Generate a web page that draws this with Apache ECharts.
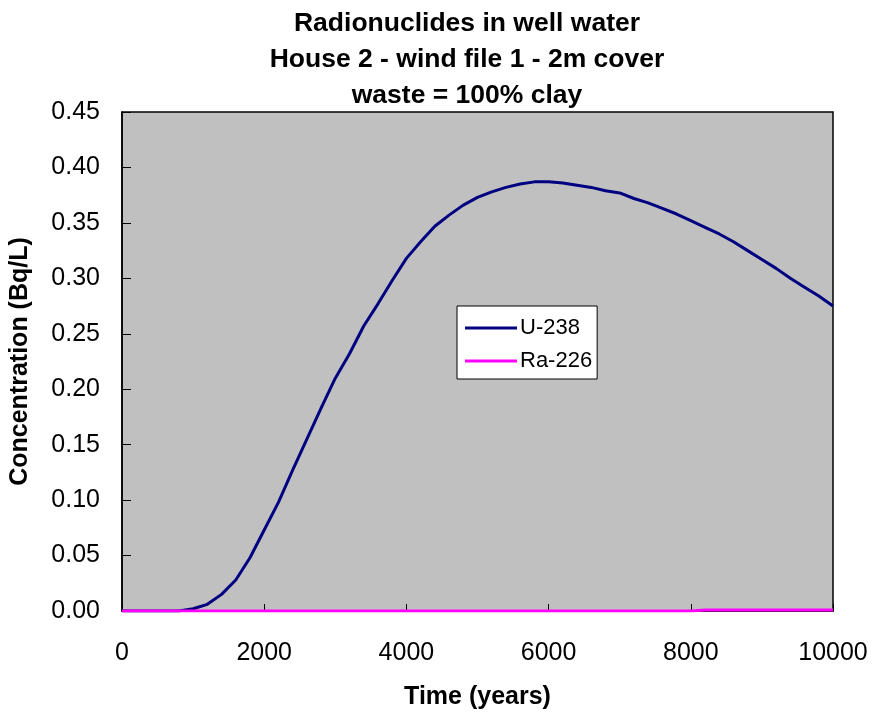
<!DOCTYPE html>
<html>
<head>
<meta charset="utf-8">
<script src="https://cdn.jsdelivr.net/npm/echarts@6/dist/echarts.min.js"></script>
<style>
  html, body { margin: 0; padding: 0; background: #fff; }
  #chart { width: 872px; height: 716px; }
</style>
</head>
<body>
<div id="chart"></div>
<script>
// time in years, every 200 years
var years = [0, 200, 400, 600, 800, 1000, 1200, 1400, 1600, 1800,
  2000, 2200, 2400, 2600, 2800, 3000, 3200, 3400, 3600, 3800,
  4000, 4200, 4400, 4600, 4800, 5000, 5200, 5400, 5600, 5800,
  6000, 6200, 6400, 6600, 6800, 7000, 7200, 7400, 7600, 7800,
  8000, 8200, 8400, 8600, 8800, 9000, 9200, 9400, 9600, 9800, 10000]

// concentration, Bq/L
var u238 = [0, 0, 0, 0, 0, 0.002, 0.006, 0.015, 0.028, 0.048,
  0.073, 0.098, 0.127, 0.155, 0.183, 0.210, 0.232, 0.257, 0.277, 0.298,
  0.318, 0.333, 0.347, 0.357, 0.366, 0.373, 0.378, 0.382, 0.385, 0.387,
  0.387, 0.386, 0.384, 0.382, 0.379, 0.377, 0.372, 0.368, 0.363, 0.358,
  0.352, 0.346, 0.340, 0.333, 0.325, 0.317, 0.309, 0.300, 0.292, 0.284, 0.275]

var ra226 = [0, 0, 0, 0, 0, 0, 0, 0, 0, 0,
  0, 0, 0, 0, 0, 0, 0, 0, 0, 0,
  0, 0, 0, 0, 0, 0, 0, 0, 0, 0,
  0, 0, 0, 0, 0, 0, 0, 0, 0, 0,
  0, 0.001, 0.001, 0.001, 0.001, 0.001, 0.001, 0.001, 0.001, 0.001, 0.001]

var seriesNames = ['U-238', 'Ra-226']
var seriesColors = ['#000080', '#FF00FF']

function pairs(vals) {
  return years.map(function(t, i) { return [t, vals[i]] })
}

var chart = echarts.init(document.getElementById('chart'))
var font = 'Arial, "Liberation Sans", sans-serif'

chart.setOption({
  animation: false,
  backgroundColor: '#fff',
  title: {
    text: 'Radionuclides in well water\nHouse 2 - wind file 1 - 2m cover\nwaste = 100% clay',
    left: 462,
    textAlign: 'center',
    top: 1,
    textStyle: {
      fontFamily: font,
      fontWeight: 'bold',
      fontSize: 26.5,
      lineHeight: 36,
      color: '#000'
    }
  },
  legend: {
    orient: 'vertical',
    left: 457,
    top: 306,
    padding: [11, 5, 7, 8],
    itemGap: 11,
    itemWidth: 52,
    itemHeight: 3,
    icon: 'rect',
    backgroundColor: '#fff',
    borderColor: '#000',
    borderWidth: 1,
    borderRadius: 0,
    textStyle: {
      fontFamily: font,
      fontSize: 22,
      color: '#000',
      padding: [0, 0, 0, -2]
    },
    data: seriesNames
  },
  grid: {
    left: 121,
    right: 39,
    top: 112,
    bottom: 105,
    show: true,
    backgroundColor: '#C0C0C0',
    borderColor: '#000',
    borderWidth: 1.5
  },
  xAxis: {
    type: 'value',
    min: 0,
    max: 10000,
    interval: 2000,
    name: 'Time (years)',
    nameLocation: 'middle',
    nameGap: 74,
    nameTextStyle: {
      fontFamily: font,
      fontWeight: 'bold',
      fontSize: 25,
      color: '#000'
    },
    axisLine: { show: true, lineStyle: { color: '#000', width: 1.5 } },
    axisTick: { show: true, inside: true, length: 7, lineStyle: { color: '#000' } },
    axisLabel: {
      margin: 30,
      fontFamily: font,
      fontSize: 25,
      color: '#000',
      formatter: function(v) { return String(v) }
    },
    splitLine: { show: false }
  },
  yAxis: {
    type: 'value',
    min: 0,
    max: 0.45,
    interval: 0.05,
    name: 'Concentration (Bq/L)',
    nameLocation: 'middle',
    nameGap: 89,
    nameTextStyle: {
      fontFamily: font,
      fontWeight: 'bold',
      fontSize: 25,
      color: '#000'
    },
    axisLine: { show: true, lineStyle: { color: '#000', width: 1.5 } },
    axisTick: { show: true, inside: true, length: 9, lineStyle: { color: '#000' } },
    axisLabel: {
      margin: 22,
      fontFamily: font,
      fontSize: 25,
      color: '#000',
      formatter: function(v) { return v.toFixed(2) }
    },
    splitLine: { show: false }
  },
  series: [{
    name: seriesNames[0],
    type: 'line',
    showSymbol: false,
    symbol: 'none',
    lineStyle: { width: 3, color: seriesColors[0] },
    itemStyle: { color: seriesColors[0] },
    data: pairs(u238)
  }, {
    name: seriesNames[1],
    type: 'line',
    showSymbol: false,
    symbol: 'none',
    lineStyle: { width: 3, color: seriesColors[1] },
    itemStyle: { color: seriesColors[1] },
    data: pairs(ra226)
  }]
})
</script>
</body>
</html>
